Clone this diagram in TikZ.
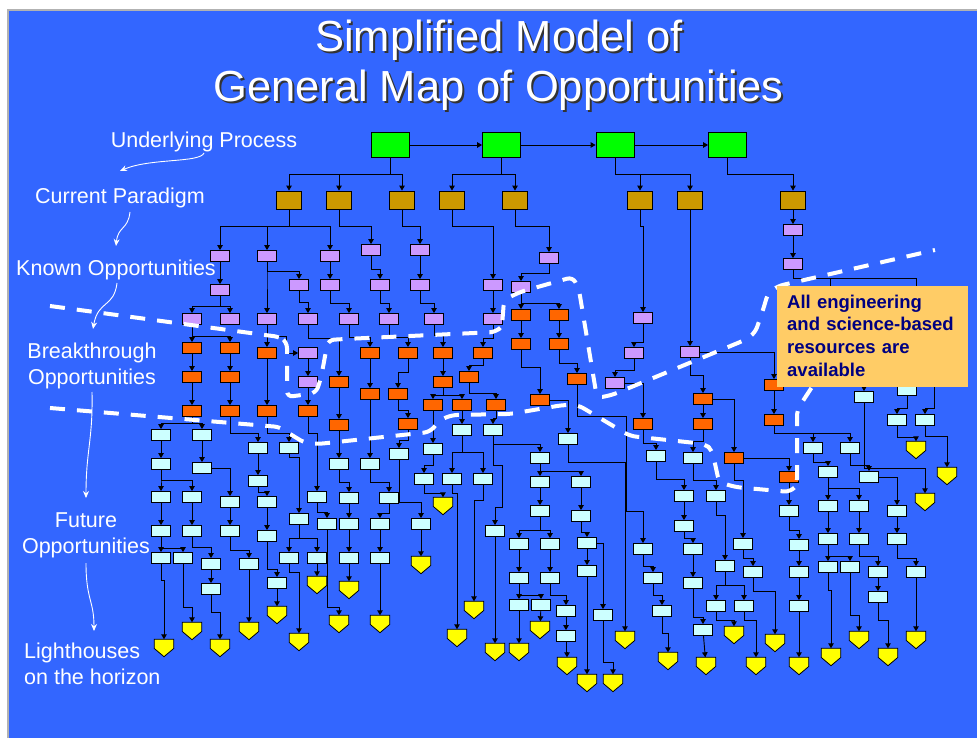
\documentclass[tikz,border=0pt]{standalone}
\usepackage{fontspec}
\setmainfont{Liberation Sans}
\usetikzlibrary{arrows.meta}
\definecolor{bgblue}{RGB}{51,102,255}
\definecolor{grn}{RGB}{0,255,0}
\definecolor{brn}{RGB}{204,153,0}
\definecolor{pur}{RGB}{204,153,255}
\definecolor{org}{RGB}{255,102,0}
\definecolor{cyn}{RGB}{204,255,255}
\definecolor{yel}{RGB}{255,255,0}
\definecolor{tbox}{RGB}{255,204,102}
\definecolor{navy}{RGB}{0,0,128}
\pgfdeclarelayer{bglay}
\pgfdeclarelayer{edgelay}
\pgfsetlayers{bglay,edgelay,main}
\tikzset{
 bx/.style={to path={(\tikztostart.south) -- (\tikztostart.south |- 0,#1) -| (\tikztotarget.north)}},
 arr/.style={draw=black, line width=0.9pt, -{Triangle[length=5pt,width=5.5pt]}},
 warr/.style={draw=white, line width=0.9pt, -{Stealth[length=7pt,width=6pt]}},
 box/.style={draw=black, line width=0.8pt, inner sep=0pt, minimum width=19pt, minimum height=11pt},
 grbox/.style={box, fill=grn, minimum width=38pt, minimum height=25pt},
 brbox/.style={box, fill=brn, minimum width=25pt, minimum height=18pt},
 pubox/.style={box, fill=pur},
 orbox/.style={box, fill=org},
 cybox/.style={box, fill=cyn},
 yebox/.style={inner sep=0pt, minimum width=19pt, minimum height=17pt},
 yeshape/.style={fill=yel, draw=black, line width=0.8pt, line join=miter},
 lab/.style={text=white, font=\fontsize{21.5}{26}\selectfont, anchor=base, inner sep=0pt},
 dsh/.style={draw=white, line width=4pt, dash pattern=on 15pt off 12pt, rounded corners=6pt},
}
\begin{document}
\begin{tikzpicture}[x=1pt,y=-1pt]
\useasboundingbox (0,0) rectangle (977,738);
\begin{pgfonlayer}{bglay}
\fill[white] (0,0) rectangle (977,738);
\fill[gray!60] (7,9) rectangle (977,738);
\fill[bgblue] (9,11) rectangle (977,738);
\end{pgfonlayer}

% title
\node[anchor=base, font=\fontsize{43.5}{50}\selectfont, text=black!80] at (501,54) {Simplified Model of};
\node[anchor=base, font=\fontsize{43.5}{50}\selectfont, text=white] (t1) at (499,52) {Simplified Model of};
\node[anchor=base, font=\fontsize{43.5}{50}\selectfont, text=black!80] at (500.5,104) {General Map of Opportunities};
\node[anchor=base, font=\fontsize{43.5}{50}\selectfont, text=white] (t2) at (498.5,102) {General Map of Opportunities};

% side labels
\node[lab] (l1) at (204,148) {Underlying Process};
\node[lab] (l2) at (120,204) {Current Paradigm};
\node[lab] (l3) at (116,275) {Known Opportunities};
\node[lab] (l4a) at (92,358) {Breakthrough};
\node[lab] (l4b) at (92,384) {Opportunities};
\node[lab] (l5a) at (86,527) {Future};
\node[lab] (l5b) at (86,553) {Opportunities};
\node[lab, anchor=base west] (l6a) at (24,658) {Lighthouses};
\node[lab, anchor=base west] (l6b) at (24,684) {on the horizon};
\draw[warr] (204,153) .. controls (200,163) and (150,158) .. (120,171);
\draw[warr] (130,212) .. controls (128,230) and (118,226) .. (116,246);
\draw[warr] (117,283) .. controls (114,308) and (98,300) .. (93,329);
\draw[warr] (92,392) .. controls (93,440) and (86,450) .. (86,498);
\draw[warr] (86,563) .. controls (86,600) and (94,600) .. (94,631);

% nodes
\foreach \n/\x/\y in {g1/390/145,g2/501.5/145,g3/615/145,g4/727.5/145}
  \node[grbox] (\n) at (\x,\y) {};
\foreach \n/\x/\y in {b1/289/200,b2/339/200,b3/402/200,b4/452/200,b5/515/200,b6/640/200,b7/690/200,b8/793/200}
  \node[brbox] (\n) at (\x,\y) {};
\foreach \n/\x/\y in {p1/220/256,p2/267/256,p3/330/256,p4/371/250,p5/420/250,p6/220/290,p7/299/285,p8/330/285,p9/380/285,p10/420/285,p11/192/319,p12/230/319,p13/267/319,p14/308/319,p15/349/319,p16/389/319,p17/434/319,p18/493/285,p19/493/319,p20/549/258,p21/521/287,p22/643/318,p23/690/352,p24/793/230,p25/793/264,p26/308/353,p27/308/382,p28/615/383,p29/634/353}
  \node[pubox] (\n) at (\x,\y) {};
\foreach \n/\x/\y in {o1/192/348,o2/230/348,o3/192/377,o4/192/411,o5/230/377,o6/230/411,o7/267/353,o8/267/411,o9/308/411,o10/339/382,o11/370/353,o12/408/353,o13/443/353,o14/370/394,o15/398/394,o16/408/424,o17/339/425,o18/443/382,o19/433/405,o20/462/405,o21/483/353,o22/469/377,o23/496/405,o24/521/315,o25/559/315,o26/521/344,o27/559/344,o28/540/400,o29/577/379,o30/703/399,o31/774/385,o32/703/424,o33/734/458,o34/789/477,o35/774/420,o36/643/424}
  \node[orbox] (\n) at (\x,\y) {};
\foreach \n/\x/\y in {c1/161/435,c2/202/435,c3/258/448,c4/289/448,c5/161/464,c6/202/468,c7/161/497,c8/192/497,c9/230/502,c10/258/481,c11/267/502,c12/299/519,c13/317/497,c14/339/464,c15/349/498,c16/370/464,c17/399/454,c18/433/449,c19/424/479,c20/462/430,c21/452/479,c22/483/479,c23/493/430,c24/540/458,c25/540/482,c26/581/482,c27/568/439,c28/389/498,c29/380/524,c30/421/524,c31/380/558,c32/349/524,c33/349/558,c34/327/524,c35/289/558,c36/317/558,c37/267/536,c38/277/583,c39/230/531,c40/249/564,c41/192/531,c42/211/564,c43/211/589,c44/161/531,c45/161/558,c46/183/558,c47/495/531,c48/540/511,c49/519/544,c50/550/544,c51/519/578,c52/519/605,c53/541/605,c54/550/578,c55/566/611,c56/566/636,c57/581/516,c58/587/543,c59/587/571,c60/603/615,c61/643/549,c62/656/456,c63/684/496,c64/684/526,c65/693/458,c66/716/496,c67/693/549,c68/693/583,c69/703/630,c70/725/566,c71/716/606,c72/744/606,c73/653/578,c74/662/611,c75/743/544,c76/753/572,c77/789/511,c78/799/545,c79/799/572,c80/799/606,c81/813/448,c82/850/448,c83/828/472,c84/828/506,c85/859/506,c86/828/539,c87/828/567,c88/850/567,c89/859/539,c90/878/572,c91/878/597,c92/869/477,c93/897/511,c94/897/539,c95/916/572,c96/864/397,c97/907/390,c98/897/420,c99/925/420,h1/830/300,h2/916/300,h3/934/350}
  \node[cybox] (\n) at (\x,\y) {};
\foreach \n/\x/\y in {ya/164/648,yb/192/631,yc/220/648,yd/249/631,ye/277/615,yf/299/642,yg/317/585,yh/339/624,yi/349/590,yj/380/624,yk/421/565,yl/443/506,ym/457/638,yn/474/610,yo/495/652,yp/519/652,yq/540/630,yr/567/666,ys/587/683,yt/613/683,yu/625/640,yv/668/661,yw/706/666,yx/734/635,yy/756/666,yz/775/643,yA/799/666,yB/831/657,yC/859/640,yD/888/657,yE/916/640,yF/916/450,yG/947/476,yH/925/502}
  {\node[yebox] (\n) at (\x,\y) {};
   \filldraw[yeshape] (\n.north west) -- (\n.north east) -- ([yshift=-0.5pt]\n.east) -- (\n.south) -- ([yshift=-0.5pt]\n.west) -- cycle;}

% connectors
\begin{pgfonlayer}{edgelay}
\foreach \a/\b in {g1/g2,g2/g3,g3/g4,b7/p23,b8/p24,p24/p25,p1/p6,p3/p8,p5/p10,p18/p19,p13/o7,p26/p27,p27/o9,o1/o3,o3/o4,o2/o5,o5/o6,o7/o8,o11/o14,o10/o17,o13/o18,o24/o26,o25/o27,o30/o32,o31/o35,o17/c14,o14/c16,o19/c18,o20/c20,o34/c77,c1/c5,c2/c6,c3/c10,c7/c44,c8/c41,c42/c43,c9/c39,c40/yd,c11/c37,c38/ye,c36/yg,c15/c32,c32/c33,c33/yi,c29/c31,c31/yj,c30/yk,c25/c48,c49/c51,c52/yp,c53/yq,c50/c54,c55/c56,c26/c57,c58/c59,c59/ys,c63/c64,c67/c68,c69/yw,c78/c79,c79/c80,c80/yA,c84/c86,c85/c89,c90/c91,c93/c94,c95/yE,c47/yo}
  \draw[arr] (\a) -- (\b);
\foreach \a/\b/\c in {g1/b1/174,g1/b2/174,g1/b3/174,g2/b4/174,g2/b5/174,g3/b6/174,g3/b7/174,g4/b8/174,
 b1/p1/226,b1/p2/226,b1/p3/226,b2/p4/226,b3/p5/226,b4/p18/226,b5/p20/226,b6/p22/226,
 p2/p7/271,p2/p13/271,p4/p9/269,p6/p11/306,p6/p12/306,p7/p14/302,p8/p15/303,p9/p16/303,p10/p17/303,p20/p21/273,p21/o24/303,p21/o25/303,p22/p29/342,p29/p28/370,p25/h1/278,p25/h2/278,p11/o1/336,p11/o2/336,p14/o10/338,p15/o11/337,p16/o12/337,p17/o13/335,p19/o21/338,p23/o30/375,
 o12/o15/372,o15/o16/410,o18/o19/395,o18/o20/395,o21/o22/365,o22/o23/393,o26/o28/367,o27/o29/363,
 o4/c1/423,o4/c2/423,o6/c3/433,o8/c4/433,o9/c13/433,o16/c17/440,o23/c23/418,o32/c65/441,o36/c62/443,o33/c75/480,o35/c81/433,o35/c82/433,
 c5/c7/480,c5/c8/480,c10/c11/492,c4/c12/457,c44/c45/548,c44/c46/548,c41/c42/547,c43/yc/612,c39/c40/550,c37/c38/569,c12/c35/538,c12/c36/538,c35/yf/572,c13/c34/512,c34/yh/607,c14/c15/482,c16/c28/482,c28/c29/513,c17/c30/502,c18/c19/465,c19/yl/493,c20/c21/452,c20/c22/452,c21/ym/493,c22/yn/500,c23/c24/444,c24/c25/471,c24/c26/471,c48/c49/530,c48/c50/530,c51/c52/595,c51/c53/595,c54/c55/595,c56/yr/652,c57/c58/532,c60/yt/662,c27/yu/462,c61/c73/566,c73/c74/595,c74/yv/633,c62/c63/479,c64/c67/538,c68/c69/617,c65/c66/480,c66/c70/515,c70/c71/585,c70/c72/585,c71/yx/620,c72/yy/620,c75/c76/558,c76/yz/591,c77/c78/530,c81/c83/462,c83/c84/488,c83/c85/488,c86/c87/556,c86/c88/556,c87/yB/590,c88/yC/615,c89/c90/556,c91/yD/620,c82/c92/465,c94/c95/558,h1/c96/360,h2/c97/340,h2/h3/330,c97/c98/408,h3/c99/408,c98/yF/437,c99/yG/436,c96/yH/468,c45/ya/580,c46/yb/607}
  \draw[arr] (\a) to[bx=\c] (\b);
\foreach \a/\b in {p23/o31,p28/o36,o30/o33,o33/o34,o28/c27,c6/c9,c58/c60,c92/c93}
  \draw[arr] (\a.east) -| (\b.north);
\draw[arr] (p13.south) -- ++(0,11.5) -| ([xshift=-11.8pt]p26.west) -- (p26.west);
\draw[arr] (o29.south) |- ([xshift=-16.6pt,yshift=126.8pt]c61.north) |- ([yshift=31.8pt]c61.north) -- (c61.north);
\draw[arr] (c23.south) |- ++(9,30) |- ++(-7,42) -- (c47.north);
\end{pgfonlayer}

% dashed boundaries
\draw[dsh] (50,306) -- (280,337) -- (287,342) -- (287,397) -- (316,393) -- (321,378) -- (328,340) -- (345,339) -- (496,332) -- (502,326) -- (504,300) -- (520,292) -- (573,277) -- (579,290) -- (597,398) -- (612,395) -- (745,340) -- (755,333) -- (763,310) -- (768,293) -- (778,286) -- (935,250);
\draw[dsh] (50,408) -- (280,427) -- (290,434) -- (305,443) -- (318,444) -- (430,432) -- (440,420) -- (452,415) -- (510,414) -- (563,405) -- (578,405) -- (630,436) -- (705,444) -- (712,450) -- (719,482) -- (735,487) -- (790,492) -- (797,485) -- (797,410) -- (812,387) -- (830,360);

% text box
\node[fill=tbox, anchor=north west, minimum width=191pt, minimum height=101pt, inner sep=0pt] (tb) at (777,286) {};
\node[anchor=west, inner sep=0pt, text width=185pt, align=left, text=navy, font=\bfseries\fontsize{18.5}{22.7}\selectfont] (tbt) at ([xshift=10pt,yshift=1pt]tb.west) {All engineering\\and science-based\\resources are\\available};
\end{tikzpicture}
\end{document}
